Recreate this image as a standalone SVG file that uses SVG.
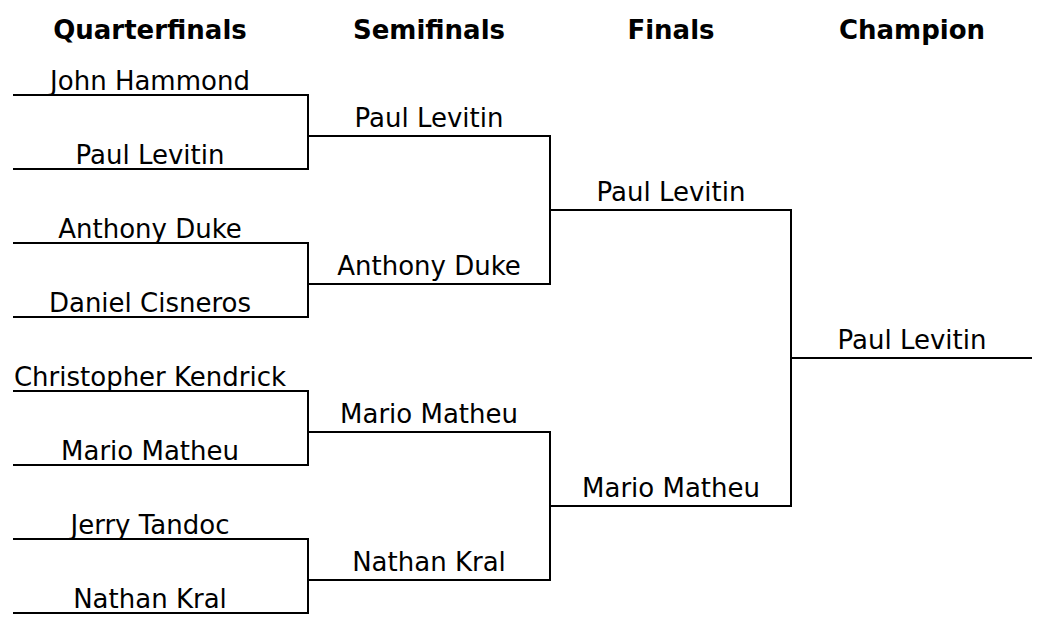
<svg xmlns="http://www.w3.org/2000/svg" width="1054" height="642" viewBox="0 0 1054 642">
<style>
.hdr{font-family:"DejaVu Sans",Verdana,sans-serif;font-size:26px;font-weight:bold;fill:#000;text-anchor:middle}
.nm{font-family:"DejaVu Sans",Verdana,sans-serif;font-size:26px;fill:#000;text-anchor:middle}
.ln{stroke:#000;stroke-width:2;fill:none;stroke-linecap:butt;stroke-linejoin:miter}
</style>
<rect width="1054" height="642" fill="#fff"/>
<g id="headers">
<text class="hdr" x="150" y="38.5">Quarterfinals</text>
<text class="hdr" x="429" y="38.5">Semifinals</text>
<text class="hdr" x="671" y="38.5">Finals</text>
<text class="hdr" x="912" y="38.5">Champion</text>
</g>
<g id="connectors">
<path class="ln" d="M13 95H308V169H13"/>
<path class="ln" d="M13 243H308V317H13"/>
<path class="ln" d="M13 391H308V465H13"/>
<path class="ln" d="M13 539H308V613H13"/>
<path class="ln" d="M308 136H550V284H308"/>
<path class="ln" d="M308 432H550V580H308"/>
<path class="ln" d="M550 210H791V506H550"/>
<path class="ln" d="M791 358H1032"/>
</g>
<g id="qf1"><text class="nm" x="150" y="89.5">John Hammond</text></g>
<g id="qf2"><text class="nm" x="150" y="163.5">Paul Levitin</text></g>
<g id="qf3"><text class="nm" x="150" y="237.5">Anthony Duke</text></g>
<g id="qf4"><text class="nm" x="150" y="311.5">Daniel Cisneros</text></g>
<g id="qf5"><text class="nm" x="150" y="385.5">Christopher Kendrick</text></g>
<g id="qf6"><text class="nm" x="150" y="459.5">Mario Matheu</text></g>
<g id="qf7"><text class="nm" x="150" y="533.5">Jerry Tandoc</text></g>
<g id="qf8"><text class="nm" x="150" y="607.5">Nathan Kral</text></g>
<g id="sf1"><text class="nm" x="429" y="126.5">Paul Levitin</text></g>
<g id="sf2"><text class="nm" x="429" y="274.5">Anthony Duke</text></g>
<g id="sf3"><text class="nm" x="429" y="422.5">Mario Matheu</text></g>
<g id="sf4"><text class="nm" x="429" y="570.5">Nathan Kral</text></g>
<g id="f1"><text class="nm" x="671" y="200.5">Paul Levitin</text></g>
<g id="f2"><text class="nm" x="671" y="496.5">Mario Matheu</text></g>
<g id="champ"><text class="nm" x="912" y="348.5">Paul Levitin</text></g>
</svg>
